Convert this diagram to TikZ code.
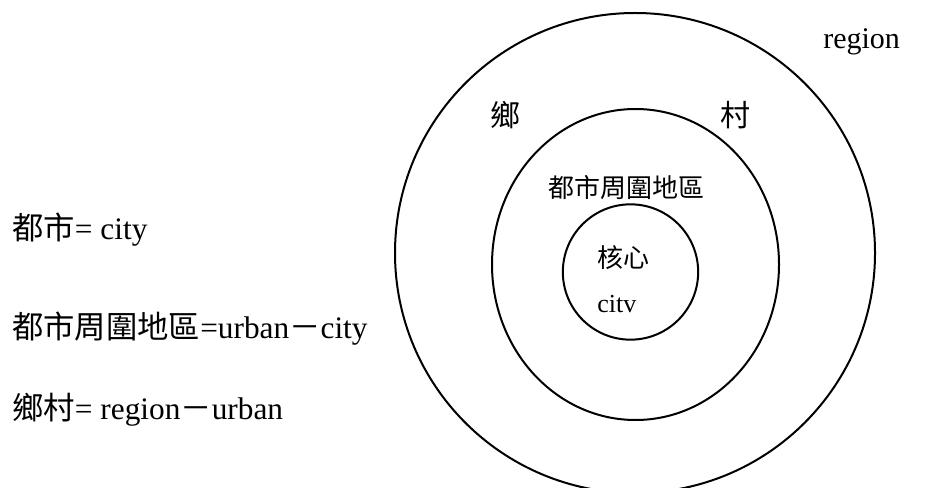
\documentclass[tikz,border=0pt]{standalone}
\usepackage{fontspec}
\setmainfont{Liberation Serif}
\newfontfamily\cjk{Noto Sans CJK TC}
\usetikzlibrary{shapes.geometric}

\tikzset{
	big/.style={font=\fontsize{22.5}{27}\selectfont, inner sep=0pt},
	legend/.style={font=\fontsize{23.5}{28}\selectfont, inner sep=0pt, anchor=base west},
	small/.style={font=\fontsize{19.5}{23}\selectfont, inner sep=0pt},
	ring/.style={draw, line width=1.5pt, inner sep=0pt}
}

\begin{document}
\begin{tikzpicture}[x=0.75pt, y=-0.75pt]

		\useasboundingbox (0, 0) rectangle (927, 488);

		\node[ring, circle, minimum size=360pt] (region) at (635, 253) {};
		\node[ring, ellipse, minimum width=215.25pt, minimum height=233.25pt] (urban) at (635.5, 264.5) {};
		\node[ring, circle, minimum size=101.5pt] (city) at (630.5, 272) {};

		\node[big, anchor=base west] (regionlabel) at (823, 49) {region};
		\node[big] (xiang) at (505, 115) {\cjk 鄉};
		\node[big] (cun) at (735, 115) {\cjk 村};
		\node[small] (urbanlabel) at (626, 188) {\cjk 都市周圍地區};
		\node[small] (core) at (623, 258) {\cjk 核心};
		\node[small, anchor=base west] (citylabel) at (597, 312) {citv};

		\node[legend] (def1) at (12, 239) {{\cjk 都市}= city};
		\node[legend] (def2) at (12, 338) {{\cjk 都市周圍地區}=urban{\cjk －}city};
		\node[legend] (def3) at (12, 419) {{\cjk 鄉村}= region{\cjk －}urban};

	\end{tikzpicture}
\end{document}
